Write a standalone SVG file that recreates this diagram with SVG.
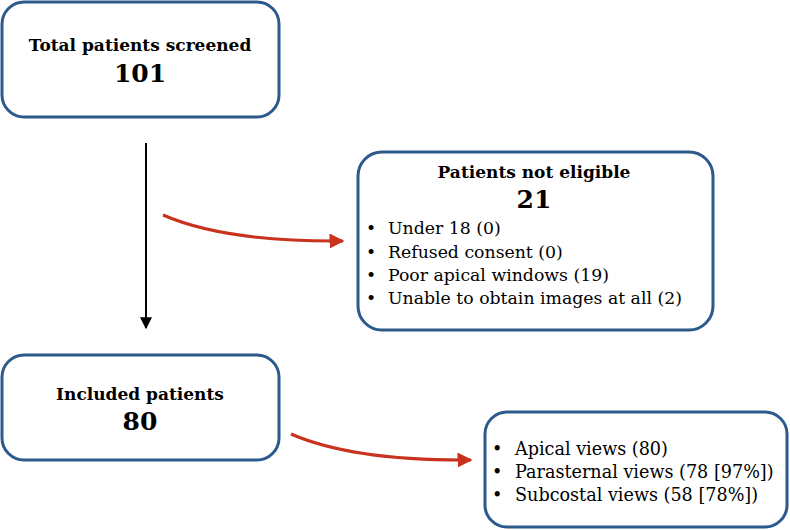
<svg xmlns="http://www.w3.org/2000/svg" width="790" height="530" viewBox="0 0 790 530">
<defs>
<style>
.box{fill:#fff;stroke:#2c5a8c;stroke-width:3}
.t{font-family:"DejaVu Serif","Liberation Serif",serif;fill:#000}
.h{font-weight:bold;font-size:17px;text-anchor:middle}
.n{font-weight:bold;font-size:25px;text-anchor:middle}
.b{font-size:17.3px}
.bv{font-size:17.6px}
.red{fill:none;stroke:#c8321e;stroke-width:3}
.blk{fill:none;stroke:#000;stroke-width:2}
</style>
<marker id="ar" viewBox="0 0 10 10" refX="9" refY="5" markerWidth="5" markerHeight="5" markerUnits="strokeWidth" orient="auto">
<path d="M0,0 L10,5 L0,10 z" fill="#c8321e"/>
</marker>
<marker id="ab" viewBox="0 0 10 10" refX="9" refY="5" markerWidth="7" markerHeight="6" markerUnits="strokeWidth" orient="auto">
<path d="M0,0 L10,5 L0,10 z" fill="#000"/>
</marker>
</defs>
<rect width="790" height="530" fill="#fff"/>
<g id="connectors">
<path class="blk" d="M146,143 L146,328" marker-end="url(#ab)"/>
<path class="red" d="M163,215 Q225,242 343,241" marker-end="url(#ar)"/>
<path class="red" d="M291,434 Q353,461 471,460" marker-end="url(#ar)"/>
</g>
<g id="total">
<rect class="box" x="2" y="2" width="277" height="115" rx="22"/>
<text class="t h" x="140" y="51">Total patients screened</text>
<text class="t n" x="140" y="82">101</text>
</g>
<g id="noteligible">
<rect class="box" x="358" y="152" width="355" height="178" rx="24"/>
<text class="t h" x="534" y="178">Patients not eligible</text>
<text class="t n" x="534" y="208">21</text>
<g class="t b">
<text x="366" y="234">•</text><text x="388" y="234">Under 18 (0)</text>
<text x="366" y="258">•</text><text x="388" y="258">Refused consent (0)</text>
<text x="366" y="281">•</text><text x="388" y="281">Poor apical windows (19)</text>
<text x="366" y="304">•</text><text x="388" y="304">Unable to obtain images at all (2)</text>
</g>
</g>
<g id="included">
<rect class="box" x="2" y="355" width="277" height="105" rx="22"/>
<text class="t h" x="140" y="400">Included patients</text>
<text class="t n" x="140" y="430">80</text>
</g>
<g id="views">
<rect class="box" x="485" y="412" width="302" height="115" rx="22"/>
<g class="t bv">
<text x="492" y="455">•</text><text x="515" y="455">Apical views (80)</text>
<text x="492" y="478">•</text><text x="515" y="478">Parasternal views (78 [97%])</text>
<text x="492" y="501">•</text><text x="515" y="501">Subcostal views (58 [78%])</text>
</g>
</g>
</svg>
